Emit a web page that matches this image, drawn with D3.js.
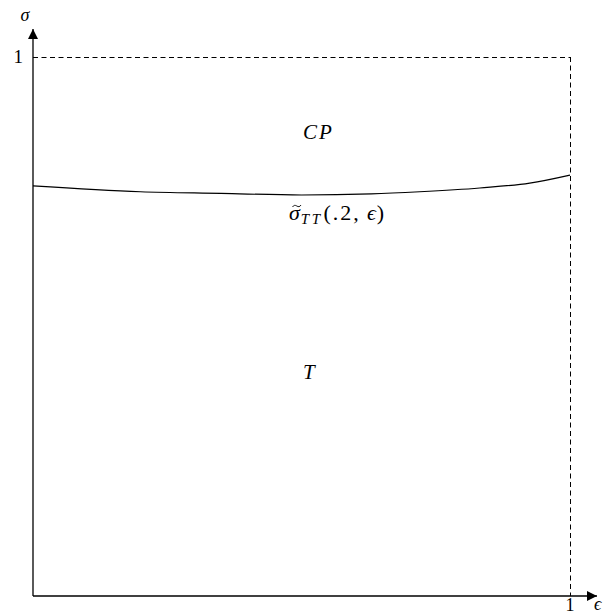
<!DOCTYPE html>
<html>
<head>
<meta charset="utf-8">
<script src="https://cdn.jsdelivr.net/npm/d3@7"></script>
<style>
  body { margin: 0; background: #fff; }
  text { font-family: "Liberation Serif", "DejaVu Serif", serif; fill: #000; }
  .math { font-style: italic; }
</style>
</head>
<body>
<svg id="chart" width="603" height="615"></svg>
<script>
// Boundary curve sigma_TT(.2, eps) across eps in [0, 1]
const epsValues   = [0, 0.2, 0.35, 0.5, 0.63, 0.72, 0.832, 0.925, 1.0];
const sigmaValues = [0.761, 0.750, 0.747, 0.744, 0.746, 0.750, 0.757, 0.766, 0.781];
const xTicks = [1];
const yTicks = [1];

const svg = d3.select("#chart");
const x = d3.scaleLinear().domain([0, 1]).range([33, 570]);
const y = d3.scaleLinear().domain([0, 1]).range([596, 57]);

// arrow head
svg.append("defs").append("marker")
  .attr("id", "arrow").attr("viewBox", "0 0 10 10")
  .attr("refX", 10).attr("refY", 5)
  .attr("markerWidth", 10).attr("markerHeight", 10)
  .attr("markerUnits", "userSpaceOnUse")
  .attr("orient", "auto")
  .append("path").attr("d", "M0,0 L10,5 L0,10 Z").attr("fill", "#000");

// axes
svg.append("line")
  .attr("x1", x(0)).attr("y1", y(0)).attr("x2", 597).attr("y2", y(0))
  .attr("stroke", "#000").attr("stroke-width", 1.3).attr("marker-end", "url(#arrow)");
svg.append("line")
  .attr("x1", x(0)).attr("y1", y(0)).attr("x2", x(0)).attr("y2", 29)
  .attr("stroke", "#000").attr("stroke-width", 1.3).attr("marker-end", "url(#arrow)");

// dashed frame at eps = 1 and sigma = 1
svg.append("line")
  .attr("x1", x(0)).attr("y1", y(1) + 0.5).attr("x2", x(1)).attr("y2", y(1) + 0.5)
  .attr("stroke", "#000").attr("stroke-width", 1).attr("stroke-dasharray", "5,3.5");
svg.append("line")
  .attr("x1", x(1) + 0.5).attr("y1", y(1)).attr("x2", x(1) + 0.5).attr("y2", y(0))
  .attr("stroke", "#000").attr("stroke-width", 1).attr("stroke-dasharray", "5,3.5");

// tick labels
svg.selectAll(".xt").data(xTicks).enter().append("text")
  .attr("x", d => x(d)).attr("y", 611).attr("text-anchor", "middle")
  .attr("font-size", 18).text(d => d);
svg.selectAll(".yt").data(yTicks).enter().append("text")
  .attr("x", 23).attr("y", d => y(d) + 6).attr("text-anchor", "end")
  .attr("font-size", 19).text(d => d);

// axis names
svg.append("text").attr("class", "math").attr("x", 25).attr("y", 21)
  .attr("text-anchor", "middle").attr("font-size", 18).text("σ");
svg.append("text").attr("class", "math").attr("x", 594).attr("y", 610)
  .attr("font-size", 18).text("ϵ");

// boundary curve
const pts = epsValues.map((e, i) => [e, sigmaValues[i]]);
svg.append("path")
  .attr("d", d3.line().x(d => x(d[0])).y(d => y(d[1])).curve(d3.curveMonotoneX)(pts))
  .attr("fill", "none").attr("stroke", "#000").attr("stroke-width", 1.2);

// region labels
svg.append("text").attr("class", "math").attr("x", 303).attr("y", 139)
  .attr("font-size", 21).attr("letter-spacing", 2).text("CP");
svg.append("text").attr("class", "math").attr("x", 303).attr("y", 379)
  .attr("font-size", 21).text("T");

// curve label: sigma with subscript TT, then (.2, eps)
const lab = svg.append("text").attr("x", 289).attr("y", 220).attr("font-size", 22);
lab.append("tspan").attr("class", "math").text("σ");
lab.append("tspan").attr("class", "math").attr("font-size", 15).attr("dy", 4)
  .attr("dx", 1).attr("letter-spacing", 2.5).text("TT");
lab.append("tspan").attr("dy", -4).attr("dx", 1).attr("letter-spacing", 2).text("(.2,");
lab.append("tspan").attr("class", "math").attr("dx", 6).text("ϵ");
lab.append("tspan").attr("dx", 1).text(")");

// tilde accent over sigma
svg.append("path")
  .attr("d", "M292.5,207 C293.8,205 295.2,205 296.8,206 C298.4,207 299.8,207 301,205")
  .attr("fill", "none").attr("stroke", "#000").attr("stroke-width", 0.9);
</script>
</body>
</html>
